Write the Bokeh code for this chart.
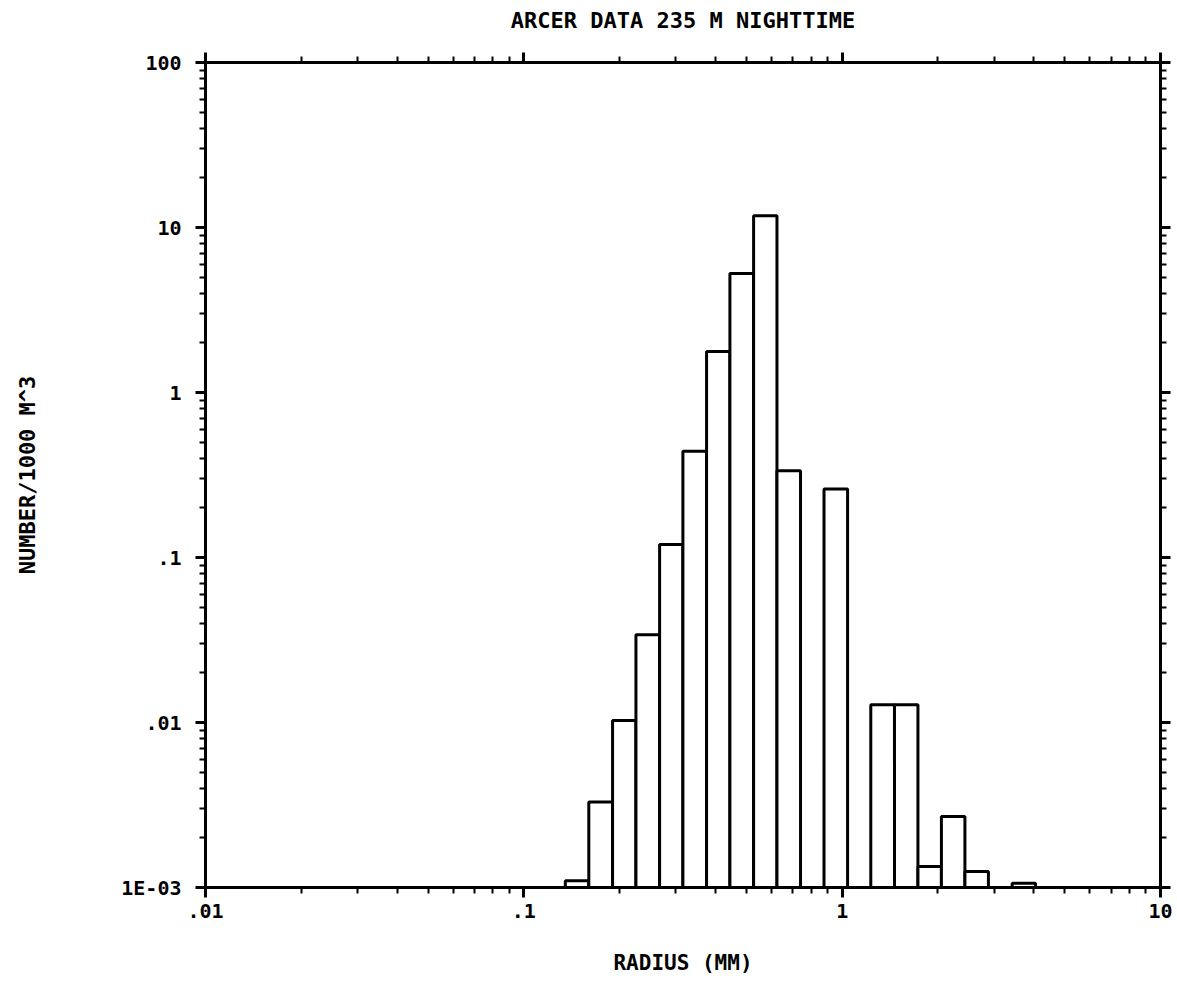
from bokeh.plotting import figure
from bokeh.models import LogAxis, FixedTicker, Range1d, CustomJSTickFormatter, ColumnDataSource
from bokeh.embed import file_html
from bokeh.resources import INLINE

# ---- data ----
bin_edges_mm = [0.135, 0.160, 0.190, 0.225, 0.267, 0.316, 0.375, 0.444, 0.527, 0.624,
                0.740, 0.877, 1.04, 1.23, 1.46, 1.73, 2.05, 2.43, 2.88, 3.42, 4.05]
counts = [1.1e-3, 3.3e-3, 0.0103, 0.034, 0.12, 0.44, 1.77, 5.26, 11.8, 0.336,
          0.0, 0.26, 0.0, 0.0128, 0.0128, 1.34e-3, 2.69e-3, 1.25e-3, 0.0, 1.06e-3]

x_tick_values = [0.01, 0.1, 1, 10]
x_tick_labels = [".01", ".1", "1", "10"]
y_tick_values = [0.001, 0.01, 0.1, 1, 10, 100]
y_tick_labels = ["1E-03", ".01", ".1", "1", "10", "100"]

title_text = "ARCER DATA 235 M NIGHTTIME"
x_label = "RADIUS (MM)"
y_label = "NUMBER/1000 M^3"

FONT = "DejaVu Sans Mono"
BASE = 1e-3

# ---- build sources ----
left, right, top = [], [], []
for i, c in enumerate(counts):
    if c > 0:
        left.append(bin_edges_mm[i])
        right.append(bin_edges_mm[i + 1])
        top.append(c)
src = ColumnDataSource(dict(left=left, right=right, top=top, bottom=[BASE] * len(top)))

p = figure(width=1177, height=999, x_axis_type="log", y_axis_type="log",
           x_range=Range1d(0.01, 10), y_range=Range1d(0.001, 100),
           output_backend="svg", toolbar_location=None,
           min_border_left=205, min_border_right=17, min_border_top=62, min_border_bottom=112,
           background_fill_color="white", border_fill_color="white", outline_line_color=None)
p.grid.visible = False

p.quad(left="left", right="right", bottom="bottom", top="top", source=src,
       fill_color="white", line_color="black", line_width=3)

x_minor = [m * 10.0 ** e for e in range(-2, 1) for m in range(2, 10)]
y_minor = [m * 10.0 ** e for e in range(-3, 2) for m in range(2, 10)]

def make_fmt(vals, labs):
    return CustomJSTickFormatter(args=dict(vals=vals, labs=labs), code="""
        let best = 0, d = Infinity;
        for (let i = 0; i < vals.length; i++) {
            const e = Math.abs(Math.log10(tick) - Math.log10(vals[i]));
            if (e < d) { d = e; best = i; }
        }
        return labs[best];
    """)

def style(ax, ticker, show_labels):
    ax.ticker = ticker
    ax.axis_line_width = 3
    ax.axis_line_color = "black"
    ax.major_tick_line_width = 3
    ax.minor_tick_line_width = 2
    ax.major_tick_out = 10
    ax.major_tick_in = 0
    ax.minor_tick_out = 6
    ax.minor_tick_in = 0
    ax.major_tick_line_color = "black"
    ax.minor_tick_line_color = "black"
    if show_labels:
        ax.major_label_text_font = FONT
        ax.major_label_text_font_style = "bold"
        ax.major_label_text_font_size = "20px"
        ax.major_label_text_color = "black"
    else:
        ax.major_label_text_color = None
        ax.major_label_text_font_size = "1px"
        ax.major_label_standoff = 0

xticker = FixedTicker(ticks=x_tick_values, minor_ticks=x_minor)
yticker = FixedTicker(ticks=y_tick_values, minor_ticks=y_minor)

xa = p.xaxis[0]
style(xa, xticker, True)
xa.formatter = make_fmt(x_tick_values, x_tick_labels)
xa.major_label_standoff = 6
xa.axis_label = x_label
xa.axis_label_text_font = FONT
xa.axis_label_text_font_style = "bold"
xa.axis_label_text_font_size = "21px"
xa.axis_label_text_color = "black"
xa.axis_label_standoff = 30

ya = p.yaxis[0]
style(ya, yticker, True)
ya.formatter = make_fmt(y_tick_values, y_tick_labels)
ya.major_label_standoff = 14
ya.axis_label = y_label
ya.axis_label_text_font = FONT
ya.axis_label_text_font_style = "bold"
ya.axis_label_text_font_size = "22px"
ya.axis_label_text_color = "black"
ya.axis_label_standoff = 78

# top axis carries the chart title as its label
top_ax = LogAxis()
style(top_ax, FixedTicker(ticks=x_tick_values, minor_ticks=x_minor), False)
top_ax.axis_label = title_text
top_ax.axis_label_text_font = FONT
top_ax.axis_label_text_font_style = "bold"
top_ax.axis_label_text_font_size = "22px"
top_ax.axis_label_text_color = "black"
top_ax.axis_label_standoff = 20
p.add_layout(top_ax, "above")

right_ax = LogAxis()
style(right_ax, FixedTicker(ticks=y_tick_values, minor_ticks=y_minor), False)
p.add_layout(right_ax, "right")

p.title.text = ""

open("out.html", "w").write(file_html(p, INLINE))
